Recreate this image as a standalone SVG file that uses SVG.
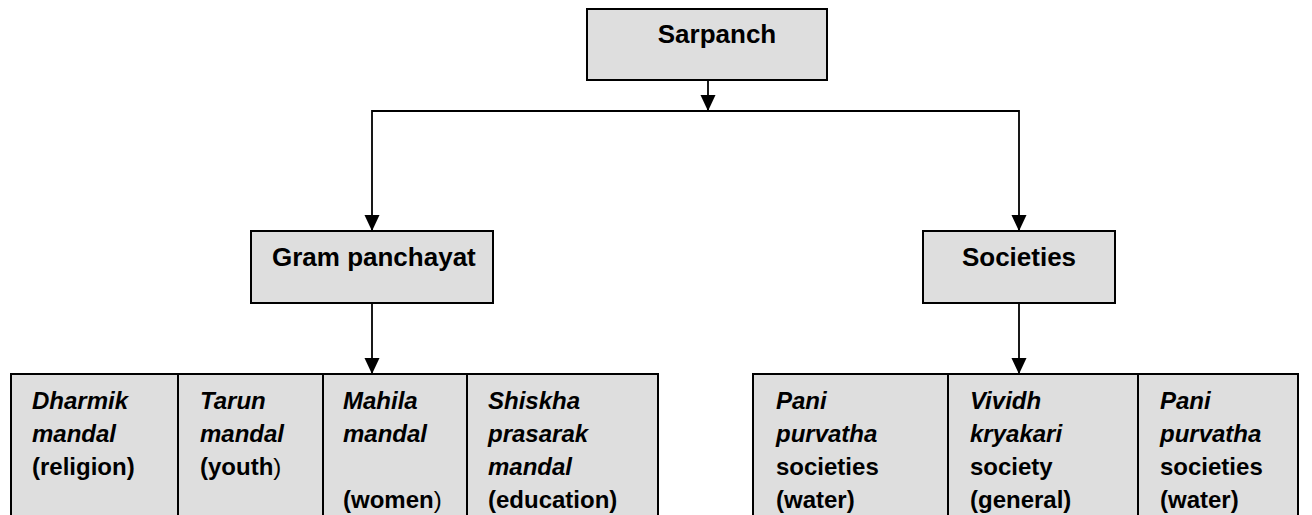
<svg xmlns="http://www.w3.org/2000/svg" width="1312" height="515" viewBox="0 0 1312 515">
<style>
.box{fill:#dedede;stroke:#000;stroke-width:2}
.cell{fill:#dedede;stroke:#000;stroke-width:2}
.h{font-family:"Liberation Sans",Arial,sans-serif;font-weight:bold;font-size:26px;fill:#000}
.t{font-family:"Liberation Sans",Arial,sans-serif;font-weight:bold;font-size:24px;fill:#000}
.i{font-style:italic}
.n{font-weight:normal}
.con{fill:none;stroke:#000;stroke-width:1.8}
</style>
<defs>
<marker id="arr" markerWidth="16" markerHeight="16" refX="17" refY="8" orient="auto" markerUnits="userSpaceOnUse" viewBox="0 0 17 16">
<path d="M0,0 L17,8 L0,16 z" fill="#000"/>
</marker>
</defs>
<rect width="1312" height="515" fill="#fff"/>
<g id="connectors">
<path class="con" d="M708,80 V111" marker-end="url(#arr)"/>
<path class="con" d="M708,111 H372 V231" marker-end="url(#arr)"/>
<path class="con" d="M708,111 H1019 V231" marker-end="url(#arr)"/>
<path class="con" d="M372,303 V374" marker-end="url(#arr)"/>
<path class="con" d="M1019,303 V374" marker-end="url(#arr)"/>
</g>
<g id="sarpanch">
<rect class="box" x="587" y="9" width="240" height="71"/>
<text class="h" x="717" y="43" text-anchor="middle">Sarpanch</text>
</g>
<g id="gram-panchayat">
<rect class="box" x="251" y="231" width="242" height="72"/>
<text class="h" x="272" y="266">Gram panchayat</text>
</g>
<g id="societies">
<rect class="box" x="923" y="231" width="192" height="72"/>
<text class="h" x="1019" y="266" text-anchor="middle">Societies</text>
</g>
<g id="dharmik-mandal">
<rect class="cell" x="11" y="374" width="167" height="160"/>
<text class="t" x="32" y="409"><tspan class="i">Dharmik</tspan><tspan class="i" x="32" y="442">mandal</tspan><tspan x="32" y="475">(religion)</tspan></text>
</g>
<g id="tarun-mandal">
<rect class="cell" x="178" y="374" width="145" height="160"/>
<text class="t" x="200" y="409"><tspan class="i">Tarun</tspan><tspan class="i" x="200" y="442">mandal</tspan><tspan x="200" y="475">(youth</tspan><tspan class="n">)</tspan></text>
</g>
<g id="mahila-mandal">
<rect class="cell" x="323" y="374" width="144" height="160"/>
<text class="t" x="343" y="409"><tspan class="i">Mahila</tspan><tspan class="i" x="343" y="442">mandal</tspan><tspan x="343" y="508">(women</tspan><tspan class="n">)</tspan></text>
</g>
<g id="shiskha-prasarak-mandal">
<rect class="cell" x="467" y="374" width="191" height="160"/>
<text class="t" x="488" y="409"><tspan class="i">Shiskha</tspan><tspan class="i" x="488" y="442">prasarak</tspan><tspan class="i" x="488" y="475">mandal</tspan><tspan x="488" y="508">(education)</tspan></text>
</g>
<g id="pani-purvatha-1">
<rect class="cell" x="753" y="374" width="195" height="160"/>
<text class="t" x="776" y="409"><tspan class="i">Pani</tspan><tspan class="i" x="776" y="442">purvatha</tspan><tspan x="776" y="475">societies</tspan><tspan x="776" y="508">(water)</tspan></text>
</g>
<g id="vividh-kryakari">
<rect class="cell" x="948" y="374" width="190" height="160"/>
<text class="t" x="970" y="409"><tspan class="i">Vividh</tspan><tspan class="i" x="970" y="442">kryakari</tspan><tspan x="970" y="475">society</tspan><tspan x="970" y="508">(general)</tspan></text>
</g>
<g id="pani-purvatha-2">
<rect class="cell" x="1138" y="374" width="160" height="160"/>
<text class="t" x="1160" y="409"><tspan class="i">Pani</tspan><tspan class="i" x="1160" y="442">purvatha</tspan><tspan x="1160" y="475">societies</tspan><tspan x="1160" y="508">(water)</tspan></text>
</g>
</svg>
